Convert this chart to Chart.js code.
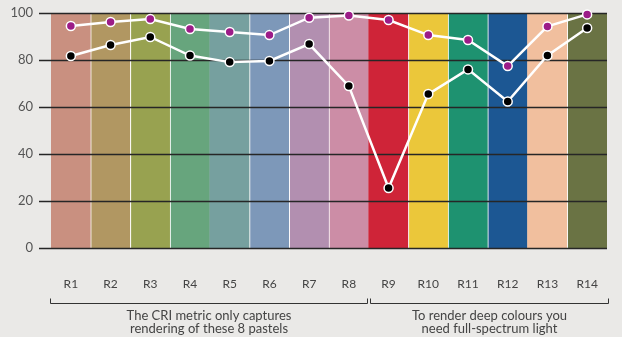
<!DOCTYPE html>
<html>
<head>
<meta charset="utf-8">
<script src="https://cdn.jsdelivr.net/npm/chart.js@4"></script>
<style>
  html, body { margin: 0; padding: 0; background: #eae9e7; }
  #wrap { width: 622px; height: 337px; position: relative; }
</style>
</head>
<body>
<div id="wrap"><canvas id="criChart"></canvas></div>
<script>
// test colour samples R1..R14
const samples = ['R1', 'R2', 'R3', 'R4', 'R5', 'R6', 'R7', 'R8', 'R9', 'R10', 'R11', 'R12', 'R13', 'R14'];
const sampleColours = ['#c99080', '#b19762', '#98a250', '#67a57d', '#76a09f', '#7d98b9', '#b28fb0',
                       '#cc8da6', '#cf2438', '#ebc73a', '#1e9270', '#1c5793', '#f1bf9e', '#6a7344'];
const fullScale = [100, 100, 100, 100, 100, 100, 100, 100, 100, 100, 100, 100, 100, 100];
const upperSource = [94.5, 96.2, 97.4, 93.2, 91.9, 90.6, 98, 98.9, 97, 90.6, 88.5, 77.4, 94.3, 99.4];
const lowerSource = [81.7, 86.4, 89.8, 81.9, 79.1, 79.6, 86.8, 68.9, 25.5, 65.5, 76, 62.3, 81.9, 93.6];
const yTicks = [0, 20, 40, 60, 80, 100];
const groupNotes = [
  { from: 0, to: 7, lines: ['The CRI metric only captures', 'rendering of these 8 pastels'] },
  { from: 8, to: 13, lines: ['To render deep colours you', 'need full-spectrum light'] }
];

const labelFont = 'Lato, "Open Sans", sans-serif';

// horizontal rules sit over the colour bars but under the lines
const gridOverBars = {
  id: 'gridOverBars',
  afterDatasetDraw(chart, args) {
    if (args.meta.type !== 'bar') return;
    const { ctx, scales: { y }, chartArea } = chart;
    ctx.save();
    ctx.strokeStyle = '#262626';
    ctx.lineWidth = 1.5;
    yTicks.forEach(v => {
      const py = Math.round(y.getPixelForValue(v)) + 0.5;
      ctx.beginPath();
      ctx.moveTo(chartArea.left - 12, py);
      ctx.lineTo(chartArea.right, py);
      ctx.stroke();
    });
    ctx.restore();
  }
};

// brackets and captions under the category labels
const groupBrackets = {
  id: 'groupBrackets',
  afterDraw(chart) {
    const { ctx, scales: { x } } = chart;
    const step = x.getPixelForValue(1) - x.getPixelForValue(0);
    const by = 303.5;
    ctx.save();
    ctx.strokeStyle = '#333';
    ctx.lineWidth = 1;
    ctx.fillStyle = '#444';
    ctx.font = '13px ' + labelFont;
    ctx.textAlign = 'center';
    ctx.textBaseline = 'middle';
    groupNotes.forEach((g, i) => {
      const x0 = Math.round(x.getPixelForValue(g.from) - step / 2 + (i ? 1 : -1)) + 0.5;
      const x1 = Math.round(x.getPixelForValue(g.to) + step / 2 + (i ? 1 : -2)) + 0.5;
      ctx.beginPath();
      ctx.moveTo(x0, by - 5);
      ctx.lineTo(x0, by);
      ctx.lineTo(x1, by);
      ctx.lineTo(x1, by - 5);
      ctx.stroke();
      const cx = (x0 + x1) / 2;
      ctx.fillText(g.lines[0], cx, 316);
      ctx.fillText(g.lines[1], cx, 329);
    });
    ctx.restore();
  }
};

const ctx = document.getElementById('criChart').getContext('2d');
new Chart(ctx, {
  data: {
    labels: samples,
    datasets: [
      {
        type: 'line',
        data: upperSource,
        order: 0,
        borderColor: '#fff',
        borderWidth: 2.5,
        tension: 0,
        pointRadius: 4.5,
        pointBorderWidth: 1.5,
        pointBackgroundColor: '#9c1c88',
        pointBorderColor: '#fff',
        clip: false
      },
      {
        type: 'line',
        data: lowerSource,
        order: 0,
        borderColor: '#fff',
        borderWidth: 2.5,
        tension: 0,
        pointRadius: 4.5,
        pointBorderWidth: 1.5,
        pointBackgroundColor: '#000',
        pointBorderColor: '#fff',
        clip: false
      },
      {
        type: 'bar',
        data: fullScale,
        order: 5,
        backgroundColor: sampleColours,
        borderColor: '#fff',
        borderWidth: c => (c.dataIndex % 4 === 0 ? 0 : { left: 1, top: 0, right: 0, bottom: 0 }),
        borderSkipped: false,
        barPercentage: 1,
        categoryPercentage: 1
      }
    ]
  },
  options: {
    responsive: true,
    maintainAspectRatio: false,
    animation: false,
    layout: { padding: { top: 13, right: 15, left: 0, bottom: 0 } },
    plugins: { legend: { display: false }, tooltip: { enabled: false } },
    scales: {
      x: {
        grid: { display: false, drawTicks: false },
        border: { display: false },
        ticks: { color: '#444', font: { family: labelFont, size: 12 }, padding: 29, maxRotation: 0 },
        afterFit: s => {
          s.height = 89;
          s.paddingLeft = 0;
          s.paddingRight = 0;
        }
      },
      y: {
        min: 0,
        max: 100,
        afterBuildTicks: s => { s.ticks = yTicks.map(v => ({ value: v })); },
        grid: { display: false, drawTicks: false },
        border: { display: false },
        ticks: { color: '#555', font: { family: labelFont, size: 13 }, padding: 18 },
        afterFit: s => {
          s.width = 51;
          s.paddingTop = 0;
          s.paddingBottom = 0;
        }
      }
    }
  },
  plugins: [gridOverBars, groupBrackets]
});
</script>
</body>
</html>
